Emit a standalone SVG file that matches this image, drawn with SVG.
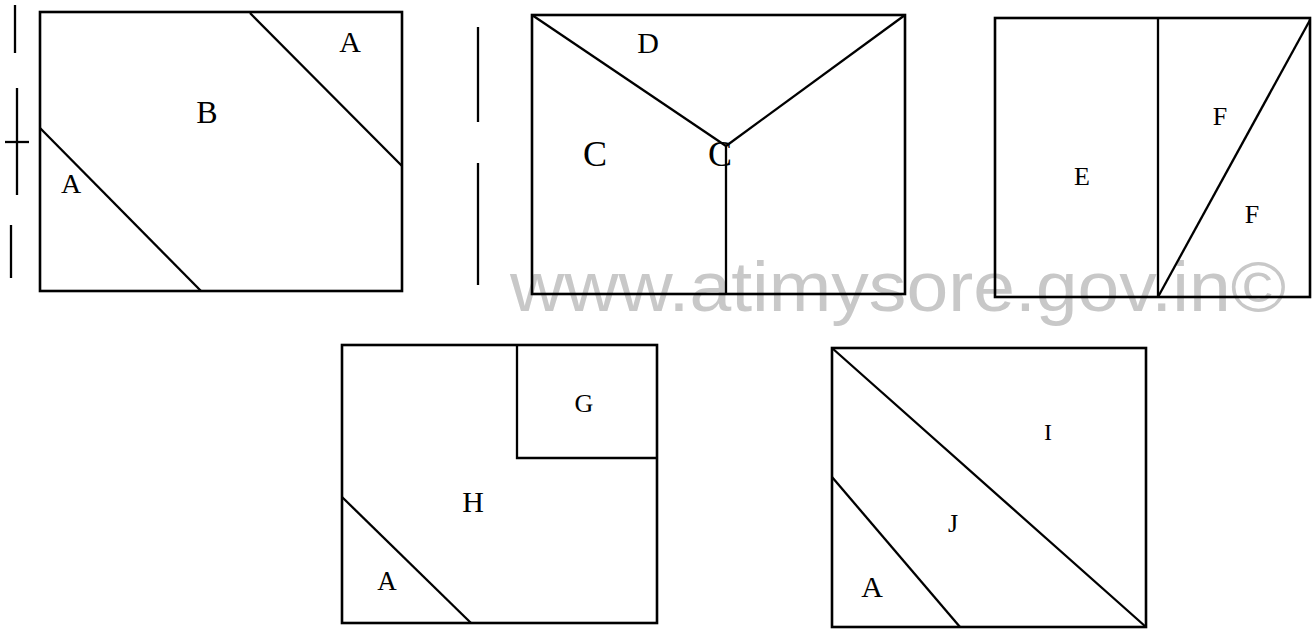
<svg xmlns="http://www.w3.org/2000/svg" width="1313" height="629" viewBox="0 0 1313 629">
<style>
.bg{fill:#ffffff}
.wm{font-family:"Liberation Sans",Arial,sans-serif;fill:#c8c8c8}
.sh{fill:none;stroke:#000;stroke-width:2.6;stroke-linecap:square}
.ln{fill:none;stroke:#000;stroke-width:2.3}
.lb{font-family:"Liberation Serif","Times New Roman",serif;fill:#000;text-anchor:middle}
</style>
<rect class="bg" x="0" y="0" width="1313" height="629"/>
<text id="watermark" class="wm" x="510" y="311" font-size="71" textLength="776" lengthAdjust="spacingAndGlyphs">www.atimysore.gov.in©</text>
<g id="marks">
<line class="ln" x1="15" y1="5" x2="15" y2="53" stroke-width="2.5"/>
<line class="ln" x1="17" y1="88" x2="17" y2="195" stroke-width="2.5"/>
<line class="ln" x1="5" y1="142" x2="29" y2="142" stroke-width="2"/>
<line class="ln" x1="11" y1="225" x2="11" y2="278" stroke-width="2.5"/>
<line class="ln" x1="478" y1="27" x2="478" y2="122" stroke-width="2.5"/>
<line class="ln" x1="478" y1="163" x2="478" y2="285" stroke-width="2.5"/>
</g>
<g id="fig1">
<rect class="sh" x="40" y="12" width="362" height="279"/>
<line class="ln" x1="40" y1="128" x2="201" y2="291"/>
<line class="ln" x1="250" y1="13" x2="402" y2="166"/>
<text class="lb" x="350" y="52" font-size="30">A</text>
<text class="lb" x="207" y="123" font-size="32">B</text>
<text class="lb" x="71" y="193" font-size="28">A</text>
</g>
<g id="fig2">
<rect class="sh" x="532" y="15" width="373" height="279"/>
<line class="ln" x1="532" y1="15" x2="726" y2="146"/>
<line class="ln" x1="905" y1="15" x2="726" y2="146"/>
<line class="ln" x1="726" y1="146" x2="726" y2="294"/>
<text class="lb" x="648" y="53" font-size="30">D</text>
<text class="lb" x="595" y="166" font-size="36">C</text>
<text class="lb" x="720" y="166" font-size="36">C</text>
</g>
<g id="fig3">
<rect class="sh" x="995" y="18" width="315" height="279"/>
<line class="ln" x1="1158" y1="18" x2="1158" y2="297"/>
<line class="ln" x1="1158" y1="297" x2="1310" y2="20" stroke-width="2.6"/>
<text class="lb" x="1082" y="185" font-size="26">E</text>
<text class="lb" x="1220" y="125" font-size="26">F</text>
<text class="lb" x="1252" y="223" font-size="26">F</text>
</g>
<g id="fig4">
<rect class="sh" x="342" y="345" width="315" height="278"/>
<polyline class="ln" points="517,345 517,458 657,458"/>
<line class="ln" x1="342" y1="497" x2="471" y2="623"/>
<text class="lb" x="584" y="412" font-size="26">G</text>
<text class="lb" x="473" y="512" font-size="30">H</text>
<text class="lb" x="387" y="590" font-size="27">A</text>
</g>
<g id="fig5">
<rect class="sh" x="832" y="348" width="314" height="279"/>
<line class="ln" x1="832" y1="348" x2="1146" y2="627"/>
<line class="ln" x1="832" y1="477" x2="960" y2="627"/>
<text class="lb" x="1048" y="440" font-size="24">I</text>
<text class="lb" x="953" y="532" font-size="26">J</text>
<text class="lb" x="872" y="597" font-size="30">A</text>
</g>
</svg>
